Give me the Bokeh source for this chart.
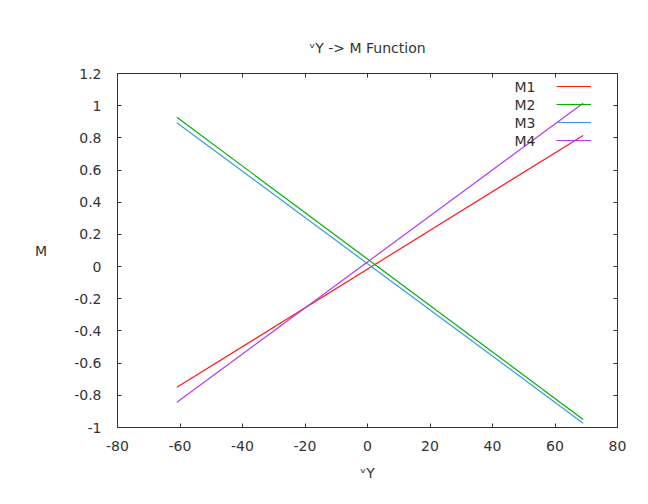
from bokeh.plotting import figure
from bokeh.models import (LinearAxis, FixedTicker, CustomJSTickFormatter, Label,
                          Legend, LegendItem, Range1d)
from bokeh.embed import file_html
from bokeh.resources import INLINE

# data (line end points)
vy = [-61, 69]
m1 = [-0.75, 0.815]
m2 = [0.928, -0.95]
m3 = [0.894, -0.973]
m4 = [-0.843, 1.015]
names = ["M1", "M2", "M3", "M4"]
colors = ["#ff1a1a", "#00b000", "#3a9ad9", "#b23aee"]

x_ticks = [-80, -60, -40, -20, 0, 20, 40, 60, 80]
y_ticks = [-1, -0.8, -0.6, -0.4, -0.2, 0, 0.2, 0.4, 0.6, 0.8, 1, 1.2]

FONT = "DejaVu Sans"
TXT = "#333333"

p = figure(width=648, height=504, output_backend="svg", toolbar_location=None,
           x_range=Range1d(-80, 80), y_range=Range1d(-1, 1.2),
           min_border_left=117, min_border_right=31, min_border_top=73,
           min_border_bottom=77, x_axis_label="\u1d5bY", y_axis_label="M",
           title="\u1d5bY -> M Function")
p.title.align = "center"
p.title.text_font = FONT
p.title.text_font_size = "14px"
p.title.text_font_style = "normal"
p.title.text_color = TXT
p.title.standoff = 35

p.grid.visible = False
p.outline_line_color = "#333333"
p.outline_line_width = 1
p.background_fill_color = "white"
p.border_fill_color = "white"

fmt = CustomJSTickFormatter(code="return Number(tick.toFixed(1)).toString();")
blank = CustomJSTickFormatter(code="return '';")

for ax, ticks in ((p.xaxis[0], x_ticks), (p.yaxis[0], y_ticks)):
    ax.ticker = FixedTicker(ticks=ticks)
    ax.formatter = fmt
    ax.minor_tick_line_color = None
    ax.major_tick_in = 4
    ax.major_tick_out = 0
    ax.axis_line_color = "#333333"
    ax.major_tick_line_color = "#333333"
    ax.major_label_text_font = FONT
    ax.major_label_text_font_size = "14px"
    ax.major_label_text_color = TXT
    ax.axis_label_text_font = FONT
    ax.axis_label_text_font_size = "14px"
    ax.axis_label_text_font_style = "normal"
    ax.axis_label_text_color = TXT

p.xaxis[0].major_label_standoff = 13
p.xaxis[0].axis_label_standoff = 11
p.yaxis[0].major_label_standoff = 16
p.yaxis[0].axis_label_standoff = 24
p.yaxis[0].axis_label_orientation = "horizontal"

# mirrored ticks on top and right
top = LinearAxis(ticker=FixedTicker(ticks=x_ticks), formatter=blank)
right = LinearAxis(ticker=FixedTicker(ticks=y_ticks), formatter=blank)
for ax in (top, right):
    ax.minor_tick_line_color = None
    ax.major_tick_in = 4
    ax.major_tick_out = 0
    ax.axis_line_color = "#333333"
    ax.major_tick_line_color = "#333333"
    ax.major_label_standoff = 0
    ax.major_label_text_font_size = "1px"
p.add_layout(top, "above")
p.add_layout(right, "right")

renderers = []
for ys, c in zip([m1, m2, m3, m4], colors):
    renderers.append(p.line(vy, ys, line_color=c, line_width=1.2))

# gnuplot style key: text first, sample line after it
key_left, key_top, row_h, sample_w = 439, 350, 18, 35
legend = Legend(items=[LegendItem(label="", renderers=[r]) for r in renderers],
                location=(key_left, key_top - 4 * row_h),
                glyph_width=sample_w, glyph_height=row_h, spacing=0,
                padding=0, margin=0, label_width=0, label_height=0,
                label_standoff=0, label_text_font_size="1px",
                border_line_color=None, background_fill_alpha=0)
p.add_layout(legend, "center")
for i, n in enumerate(names):
    p.add_layout(Label(x=key_left - 21, y=key_top - row_h * i - row_h / 2,
                       x_units="screen", y_units="screen", text=n,
                       text_align="right", text_baseline="middle",
                       text_font=FONT, text_font_size="14px", text_color=TXT))

open("out.html", "w").write(file_html(p, INLINE))
